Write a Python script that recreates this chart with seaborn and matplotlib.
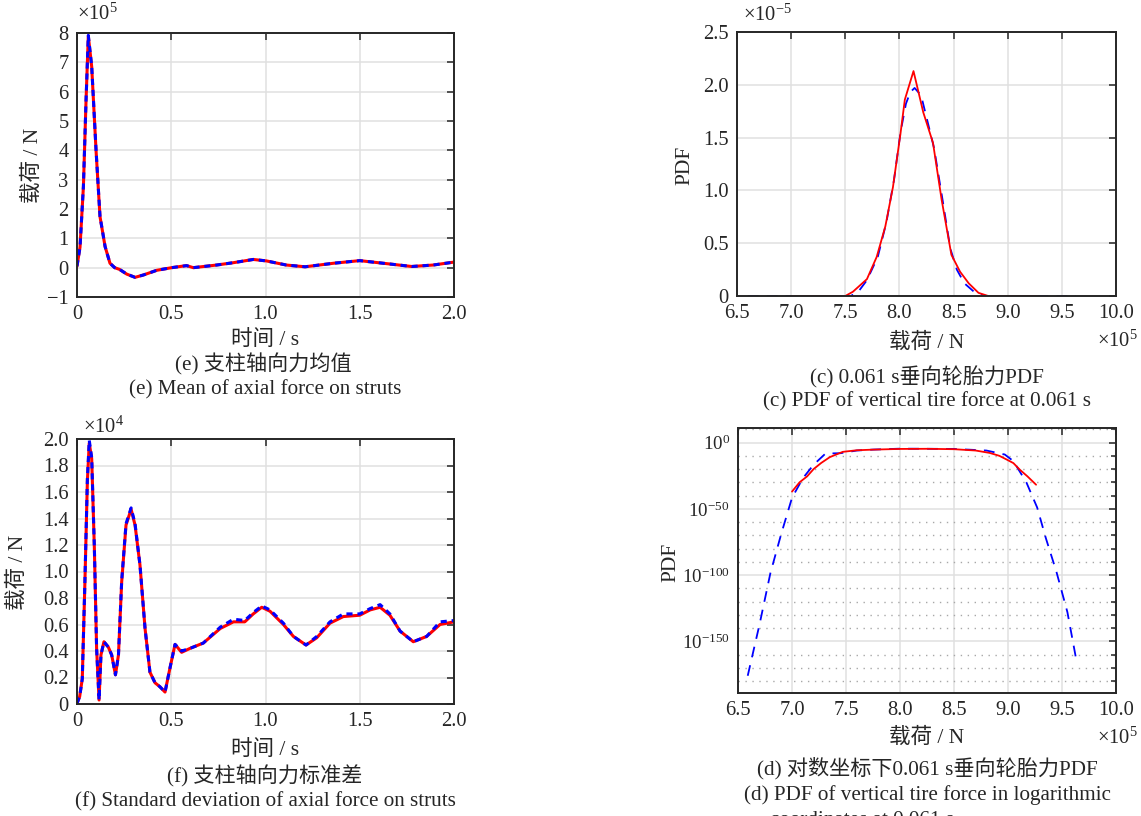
import numpy as np
import matplotlib
matplotlib.use("Agg")
import matplotlib.pyplot as plt
from matplotlib.ticker import FixedLocator, NullFormatter
import seaborn as sns

# (e) mean axial force on struts, units of 1e5 N
t_mean = [0.0, 0.016, 0.034, 0.048, 0.06, 0.078, 0.101, 0.122, 0.149, 0.175, 0.2, 0.226,
          0.264, 0.308, 0.352, 0.423, 0.502, 0.581, 0.617, 0.741, 0.83, 0.935, 1.005,
          1.11, 1.21, 1.36, 1.5, 1.625, 1.776, 1.89, 2.0]
mean_red = [0.05, 0.7, 2.76, 5.7, 7.9, 6.85, 4.0, 1.74, 0.72, 0.15, 0.0, -0.06,
            -0.22, -0.33, -0.25, -0.09, 0.0, 0.07, 0.0, 0.09, 0.17, 0.28, 0.23,
            0.09, 0.03, 0.15, 0.24, 0.15, 0.04, 0.09, 0.19]
mean_blue = [0.05, 0.7, 2.78, 5.72, 7.92, 6.87, 4.02, 1.75, 0.72, 0.15, 0.0, -0.06,
             -0.22, -0.33, -0.25, -0.09, 0.0, 0.07, 0.0, 0.09, 0.17, 0.28, 0.23,
             0.09, 0.03, 0.15, 0.24, 0.15, 0.04, 0.09, 0.19]

# (f) standard deviation of axial force, units of 1e4 N
t_std = [0.0, 0.014, 0.028, 0.042, 0.055, 0.065, 0.078, 0.092, 0.104, 0.117, 0.127, 0.143,
         0.166, 0.184, 0.204, 0.22, 0.237, 0.26, 0.287, 0.308, 0.334, 0.361, 0.387, 0.414,
         0.44, 0.467, 0.493, 0.52, 0.555, 0.6, 0.67, 0.76, 0.83, 0.89, 0.935, 0.98, 1.024,
         1.095, 1.148, 1.215, 1.272, 1.342, 1.413, 1.5, 1.555, 1.608, 1.66, 1.714, 1.784,
         1.855, 1.926, 2.0]
std_red = [0.005, 0.055, 0.19, 0.92, 1.68, 1.97, 1.85, 1.18, 0.42, 0.03, 0.37, 0.47,
           0.43, 0.37, 0.22, 0.37, 0.92, 1.35, 1.47, 1.35, 1.05, 0.57, 0.24, 0.16,
           0.13, 0.09, 0.27, 0.45, 0.39, 0.42, 0.46, 0.57, 0.62, 0.62, 0.68, 0.73, 0.70,
           0.60, 0.51, 0.445, 0.50, 0.61, 0.66, 0.67, 0.71, 0.73, 0.67, 0.55, 0.47,
           0.51, 0.60, 0.62]
std_blue = [0.005, 0.055, 0.19, 0.93, 1.70, 1.99, 1.86, 1.19, 0.42, 0.03, 0.37, 0.47,
            0.43, 0.37, 0.22, 0.37, 0.93, 1.36, 1.48, 1.36, 1.05, 0.57, 0.24, 0.16,
            0.13, 0.09, 0.27, 0.45, 0.40, 0.42, 0.46, 0.58, 0.64, 0.63, 0.69, 0.74, 0.71,
            0.61, 0.51, 0.445, 0.51, 0.62, 0.68, 0.68, 0.72, 0.75, 0.68, 0.55, 0.47,
            0.51, 0.62, 0.63]

# (c) PDF of vertical tire force at 0.061 s, x in 1e5 N, y in 1e-5
f_pdf_red = [7.0, 7.3, 7.5, 7.57, 7.70, 7.79, 7.87, 7.94, 8.01, 8.05, 8.13, 8.22, 8.31,
             8.39, 8.48, 8.56, 8.64, 8.73, 8.82, 9.0, 9.27]
pdf_red = [0, 0, 0, 0.04, 0.16, 0.37, 0.66, 1.03, 1.54, 1.86, 2.13, 1.74, 1.45,
           0.91, 0.39, 0.23, 0.12, 0.03, 0, 0, 0]
f_pdf_blue = [6.6, 7.0, 7.4, 7.55, 7.62, 7.70, 7.80, 7.88, 7.95, 8.01, 8.06, 8.10, 8.14,
              8.20, 8.26, 8.32, 8.40, 8.47, 8.53, 8.60, 8.70, 8.80, 9.2, 9.63]
pdf_blue = [0, 0, 0, 0, 0.04, 0.15, 0.37, 0.7, 1.1, 1.55, 1.82, 1.93, 1.97,
            1.9, 1.65, 1.4, 0.9, 0.45, 0.25, 0.12, 0.03, 0, 0, 0]

# (d) same PDF, log10 values
f_log_red = [7.00, 7.07, 7.14, 7.20, 7.27, 7.35, 7.47, 7.60, 7.76, 8.00, 8.25, 8.50, 8.70,
             8.83, 8.92, 8.99, 9.05, 9.11, 9.18, 9.26]
log_red = [-37, -30, -25.5, -20, -15.4, -11, -7, -5.8, -5.3, -4.8, -4.7, -5.0, -6.0,
           -7.8, -10, -12.9, -15.5, -20.5, -25.5, -31.8]
f_log_blue = [6.59, 6.70, 6.80, 6.90, 7.00, 7.10, 7.20, 7.31, 7.45, 7.6, 7.75, 8.0, 8.5,
              8.8, 8.97, 9.05, 9.17, 9.27, 9.35, 9.45, 9.55, 9.63]
log_blue = [-176, -137, -98.5, -69, -41.7, -27, -16.7, -8.3, -8.0, -6, -5.3, -4.6, -4.8,
            -6, -9, -14, -30, -49, -72, -98, -128, -163]

sns.set_style('whitegrid')
plt.rcParams['font.family'] = ['Liberation Serif', 'Noto Sans CJK SC']
plt.rcParams['mathtext.fontset'] = 'custom'
plt.rcParams['mathtext.rm'] = 'Liberation Serif'
plt.rcParams['mathtext.it'] = 'Liberation Serif:italic'
plt.rcParams['axes.unicode_minus'] = True

W, H = 1141, 816
fig = plt.figure(figsize=(W / 100, H / 100), dpi=100)
FS = 14.8
CAP = 15.2


def box(l, t, r, b):
    return [l / W, 1 - b / H, (r - l) / W, (b - t) / H]


def ftext(x, y, s, size=FS, va='center', **kw):
    fig.text(x / W, 1 - y / H, s, fontsize=size, ha='center', va=va, **kw)


def style(ax):
    for sp in ax.spines.values():
        sp.set_color('#262626')
        sp.set_linewidth(1.4)
        sp.set_visible(True)
    ax.grid(True, which='major', color='#e0e0e0', linewidth=1.1)
    ax.tick_params(which='both', direction='in', top=True, right=True,
                   length=5, width=1.1, color='#262626', labelsize=FS, pad=6)
    ax.set_facecolor('white')
    ax.set_xlabel('')
    ax.set_ylabel('')


ax_e = fig.add_axes(box(77, 33, 454, 297))
ax_c = fig.add_axes(box(737, 32, 1116, 296))
ax_f = fig.add_axes(box(77, 439, 454, 704))
ax_d = fig.add_axes(box(738, 428, 1116, 693))

# (e)
sns.lineplot(x=t_mean, y=mean_red, ax=ax_e, color='red', linewidth=2.2,
             sort=False, estimator=None)
sns.lineplot(x=t_mean, y=mean_blue, ax=ax_e, color='blue', linewidth=2.2,
             linestyle=(0, (2, 1.6)), sort=False, estimator=None)
ax_e.set_xlim(0, 2)
ax_e.set_ylim(-1, 8)
ax_e.set_xticks([0, 0.5, 1.0, 1.5, 2.0])
ax_e.set_xticklabels(['0', '0.5', '1.0', '1.5', '2.0'])
ax_e.set_yticks(range(-1, 9))
ax_e.set_yticklabels(['\u22121'] + [str(i) for i in range(0, 9)])
style(ax_e)

# (f)
sns.lineplot(x=t_std, y=std_red, ax=ax_f, color='red', linewidth=2.2,
             sort=False, estimator=None)
sns.lineplot(x=t_std, y=std_blue, ax=ax_f, color='blue', linewidth=2.2,
             linestyle=(0, (2, 1.6)), sort=False, estimator=None)
ax_f.set_xlim(0, 2)
ax_f.set_ylim(0, 2)
ax_f.set_xticks([0, 0.5, 1.0, 1.5, 2.0])
ax_f.set_xticklabels(['0', '0.5', '1.0', '1.5', '2.0'])
yt = np.arange(0, 2.01, 0.2)
ax_f.set_yticks(yt)
ax_f.set_yticklabels(['0'] + ['%.1f' % v for v in yt[1:]])
style(ax_f)

# (c)
sns.lineplot(x=f_pdf_blue, y=pdf_blue, ax=ax_c, color='blue', linewidth=1.3,
             linestyle=(0, (6, 4.5)), sort=False, estimator=None)
sns.lineplot(x=f_pdf_red, y=pdf_red, ax=ax_c, color='red', linewidth=1.3,
             sort=False, estimator=None)
ax_c.set_xlim(6.5, 10)
ax_c.set_ylim(0, 2.5)
xt = np.arange(6.5, 10.01, 0.5)
ax_c.set_xticks(xt)
ax_c.set_xticklabels(['%.1f' % v for v in xt])
ax_c.set_yticks([0, 0.5, 1.0, 1.5, 2.0, 2.5])
ax_c.set_yticklabels(['0', '0.5', '1.0', '1.5', '2.0', '2.5'])
style(ax_c)

# (d)
sns.lineplot(x=f_log_blue, y=10.0 ** np.array(log_blue), ax=ax_d, color='blue',
             linewidth=1.3, linestyle=(0, (6, 4.5)), sort=False, estimator=None)
sns.lineplot(x=f_log_red, y=10.0 ** np.array(log_red), ax=ax_d, color='red',
             linewidth=1.3, sort=False, estimator=None)
ax_d.set_yscale('log')
ax_d.set_xlim(6.5, 10)
ax_d.set_ylim(1e-189, 1e11)
ax_d.set_xticks(xt)
ax_d.set_xticklabels(['%.1f' % v for v in xt])
ax_d.yaxis.set_major_locator(FixedLocator([1e-150, 1e-100, 1e-50, 1e0]))
ax_d.set_yticklabels([r'$10^{-150}$', r'$10^{-100}$', r'$10^{-50}$', r'$10^{0}$'])
minor = [10.0 ** p for p in range(-180, 11, 10) if p % 50 != 0]
ax_d.yaxis.set_minor_locator(FixedLocator(minor))
ax_d.yaxis.set_minor_formatter(NullFormatter())
style(ax_d)
ax_d.tick_params(axis='y', labelsize=13.6)
ax_d.grid(True, which='minor', axis='y', color='#a8a8a8', linewidth=1.0,
          linestyle=(0, (1, 4)))
ax_d.tick_params(which='minor', length=3.5)

# multipliers
ax_e.text(0.0, 1.07, r'$\times10^{5}$', transform=ax_e.transAxes, fontsize=FS,
          ha='left', va='center')
ax_f.text(0.015, 1.045, r'$\times10^{4}$', transform=ax_f.transAxes, fontsize=FS,
          ha='left', va='center')
ax_c.text(0.015, 1.062, r'$\times10^{-5}$', transform=ax_c.transAxes, fontsize=FS,
          ha='left', va='center')
ax_c.text(0.95, -0.17, r'$\times10^{5}$', transform=ax_c.transAxes, fontsize=FS,
          ha='left', va='center')
ax_d.text(0.95, -0.17, r'$\times10^{5}$', transform=ax_d.transAxes, fontsize=FS,
          ha='left', va='center')

# axis labels
ftext(265, 340, '时间 / s', size=15.5)
ftext(33, 165, '载荷 / N', size=15.5, rotation=90)
ftext(265, 750, '时间 / s', size=15.5)
ftext(18, 572, '载荷 / N', size=15.5, rotation=90)
ftext(927, 343, '载荷 / N', size=15.5)
ftext(685, 165, 'PDF', size=15.5, rotation=90)
ftext(927, 738, '载荷 / N', size=15.5)
ftext(671, 562, 'PDF', size=15.5, rotation=90)

# captions
ftext(263, 364, '(e) 支柱轴向力均值', size=CAP)
ftext(265, 390, '(e) Mean of axial force on struts', size=CAP)
ftext(265, 776, '(f) 支柱轴向力标准差', size=CAP)
ftext(265, 802, '(f) Standard deviation of axial force on struts', size=CAP)
ftext(927, 377, '(c) 0.061 s垂向轮胎力PDF', size=CAP)
ftext(927, 402, '(c) PDF of vertical tire force at 0.061 s', size=CAP)
ftext(927, 768, '(d) 对数坐标下0.061 s垂向轮胎力PDF', size=CAP)
ftext(927, 795, '(d) PDF of vertical tire force in logarithmic', size=CAP)
ftext(862, 825, 'coordinates at 0.061 s', size=CAP, va='baseline')

fig.savefig('out.png', dpi=100)
